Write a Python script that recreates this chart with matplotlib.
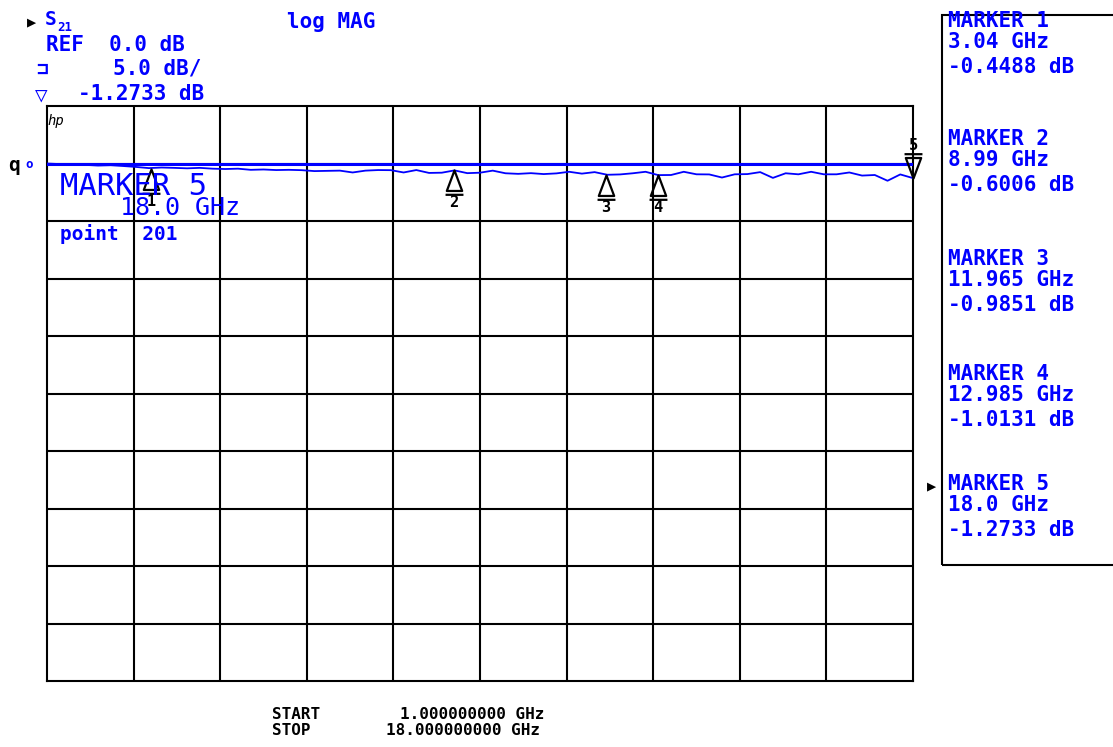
import matplotlib
matplotlib.use("Agg")
import matplotlib.pyplot as plt
from matplotlib.path import Path
from matplotlib.patches import Rectangle

W, H = 1113, 747
BLUE = '#0000ff'
MONO = 'DejaVu Sans Mono'

# sweep / scale settings
freq_start, freq_stop = 1.0, 18.0
ref_db = 0.0
db_per_div = 5.0

# S21 trace, every 0.25 GHz
freq = [1.00, 1.25, 1.50, 1.75, 2.00, 2.25, 2.50, 2.75, 3.00, 3.25, 3.50, 3.75,
        4.00, 4.25, 4.50, 4.75, 5.00, 5.25, 5.50, 5.75, 6.00, 6.25, 6.50, 6.75,
        7.00, 7.25, 7.50, 7.75, 8.00, 8.25, 8.50, 8.75, 9.00, 9.25, 9.50, 9.75,
        10.00, 10.25, 10.50, 10.75, 11.00, 11.25, 11.50, 11.75, 12.00, 12.25,
        12.50, 12.75, 13.00, 13.25, 13.50, 13.75, 14.00, 14.25, 14.50, 14.75,
        15.00, 15.25, 15.50, 15.75, 16.00, 16.25, 16.50, 16.75, 17.00, 17.25,
        17.50, 17.75, 18.00]
s21_db = [0.00, -0.05, -0.10, -0.12, -0.18, -0.15, -0.22, -0.30, -0.40, -0.35,
          -0.38, -0.42, -0.38, -0.45, -0.48, -0.45, -0.55, -0.52, -0.57, -0.55,
          -0.58, -0.66, -0.64, -0.62, -0.78, -0.62, -0.57, -0.58, -0.78, -0.57,
          -0.82, -0.80, -0.60, -0.84, -0.80, -0.62, -0.85, -0.90, -0.84, -0.92,
          -0.86, -0.72, -0.88, -0.75, -0.98, -0.95, -0.85, -0.72, -1.01, -1.00,
          -0.72, -0.94, -0.95, -1.22, -0.94, -0.92, -0.75, -1.25, -0.85, -0.94,
          -0.72, -0.94, -0.94, -0.78, -1.05, -1.00, -1.50, -0.95, -1.27]

# markers
marker_num = [1, 2, 3, 4, 5]
marker_freq = [3.04, 8.99, 11.965, 12.985, 18.0]
marker_db = [-0.4488, -0.6006, -0.9851, -1.0131, -1.2733]
marker_freq_txt = ['3.04 GHz', '8.99 GHz', '11.965 GHz', '12.985 GHz', '18.0 GHz']
marker_db_txt = ['-0.4488 dB', '-0.6006 dB', '-0.9851 dB', '-1.0131 dB', '-1.2733 dB']
active_marker = 5

fig = plt.figure(figsize=(W / 100, H / 100), dpi=100)
fig.patch.set_facecolor('white')


def ftext(x, y, s, size=15, color=BLUE, weight='bold', **kw):
    # x = left pixel, y = baseline pixel from top
    fig.text(x / W, 1 - y / H, s, fontsize=size, color=color, family=MONO,
             fontweight=weight, ha='left', va='baseline', **kw)


ax = fig.add_axes([47 / W, 1 - 681 / H, 866 / W, 575 / H])
top_db = ref_db + db_per_div
ax.set_xlim(freq_start, freq_stop)
ax.set_ylim(top_db - 10 * db_per_div, top_db)
ax.set_xticks([])
ax.set_yticks([])
for sp in ax.spines.values():
    sp.set_linewidth(1.5)
    sp.set_color('black')
step = (freq_stop - freq_start) / 10
for i in range(1, 10):
    ax.axvline(freq_start + i * step, color='black', lw=1.5, zorder=1)
    ax.axhline(top_db - i * db_per_div, color='black', lw=1.5, zorder=1)

# reference line and trace
ax.axhline(ref_db, color=BLUE, lw=2.2, zorder=3)
ax.plot(freq, s21_db, color=BLUE, lw=1.3, zorder=4)

# marker symbols: open triangle with a bar, number below (active one inverted above)
up = Path([(0, 0), (-6, -16), (6, -16), (0, 0), (-7, -19), (7, -19)],
          [Path.MOVETO, Path.LINETO, Path.LINETO, Path.CLOSEPOLY, Path.MOVETO, Path.LINETO])
down = Path([(0, 0), (-6, 16), (6, 16), (0, 0), (-7, 19), (7, 19)],
            [Path.MOVETO, Path.LINETO, Path.LINETO, Path.CLOSEPOLY, Path.MOVETO, Path.LINETO])
for n, f, d in zip(marker_num, marker_freq, marker_db):
    if n == active_marker:
        ax.plot(f, d, marker=down, ms=35, mfc='none', mec='black', mew=1.6,
                clip_on=False, zorder=6)
        ax.annotate(str(n), (f, d), xytext=(0, 18), textcoords='offset points',
                    ha='center', va='bottom', fontsize=11, family=MONO,
                    fontweight='bold', color='black', annotation_clip=False)
    else:
        ax.plot(f, d, marker=up, ms=35, mfc='none', mec='black', mew=1.6,
                clip_on=False, zorder=6)
        ax.annotate(str(n), (f, d), xytext=(0, -18), textcoords='offset points',
                    ha='center', va='top', fontsize=11, family=MONO,
                    fontweight='bold', color='black', annotation_clip=False)

# header text
ftext(27, 26, '\u25b6', size=11, color='black')
ftext(45, 25, 'S', size=14)
ftext(57, 31, '21', size=9)
ftext(287, 28, 'log MAG')
ftext(46, 51, 'REF  0.0 dB')
ftext(36, 75, '\u2290', size=14)
ftext(113, 75, '5.0 dB/')
ftext(35, 101, '\u25bd', size=15)
ftext(78, 100, '-1.2733 dB')
ftext(47, 125, 'hp', size=10, color='black', weight='normal', style='italic')
ftext(8, 171, 'q', size=14, color='black')
ftext(25, 168, 'o', size=9)

# active marker readout inside the grid
ftext(60, 195, 'MARKER 5', size=22, weight='normal')
ftext(120, 215, '18.0 GHz', size=18, weight='normal')
ftext(60, 240, 'point  201', size=14)

# marker table box on the right
fig.patches.append(Rectangle((942 / W, 1 - 565 / H), 200 / W, 550 / H,
                             transform=fig.transFigure, fill=False,
                             ec='black', lw=1.5))
base = [27, 145, 265, 380, 490]
for n, b, ft, dt in zip(marker_num, base, marker_freq_txt, marker_db_txt):
    if n == active_marker:
        ftext(927, b, '\u25b6', size=11, color='black')
    ftext(948, b, 'MARKER %d' % n)
    ftext(948, b + 21, ft)
    ftext(948, b + 46, dt)

# sweep range
ftext(272, 719, 'START', size=11.5, color='black')
ftext(400, 719, '1.000000000 GHz', size=11.5, color='black')
ftext(272, 735, 'STOP', size=11.5, color='black')
ftext(386, 735, '18.000000000 GHz', size=11.5, color='black')

fig.savefig('out.png', dpi=100, facecolor='white')
